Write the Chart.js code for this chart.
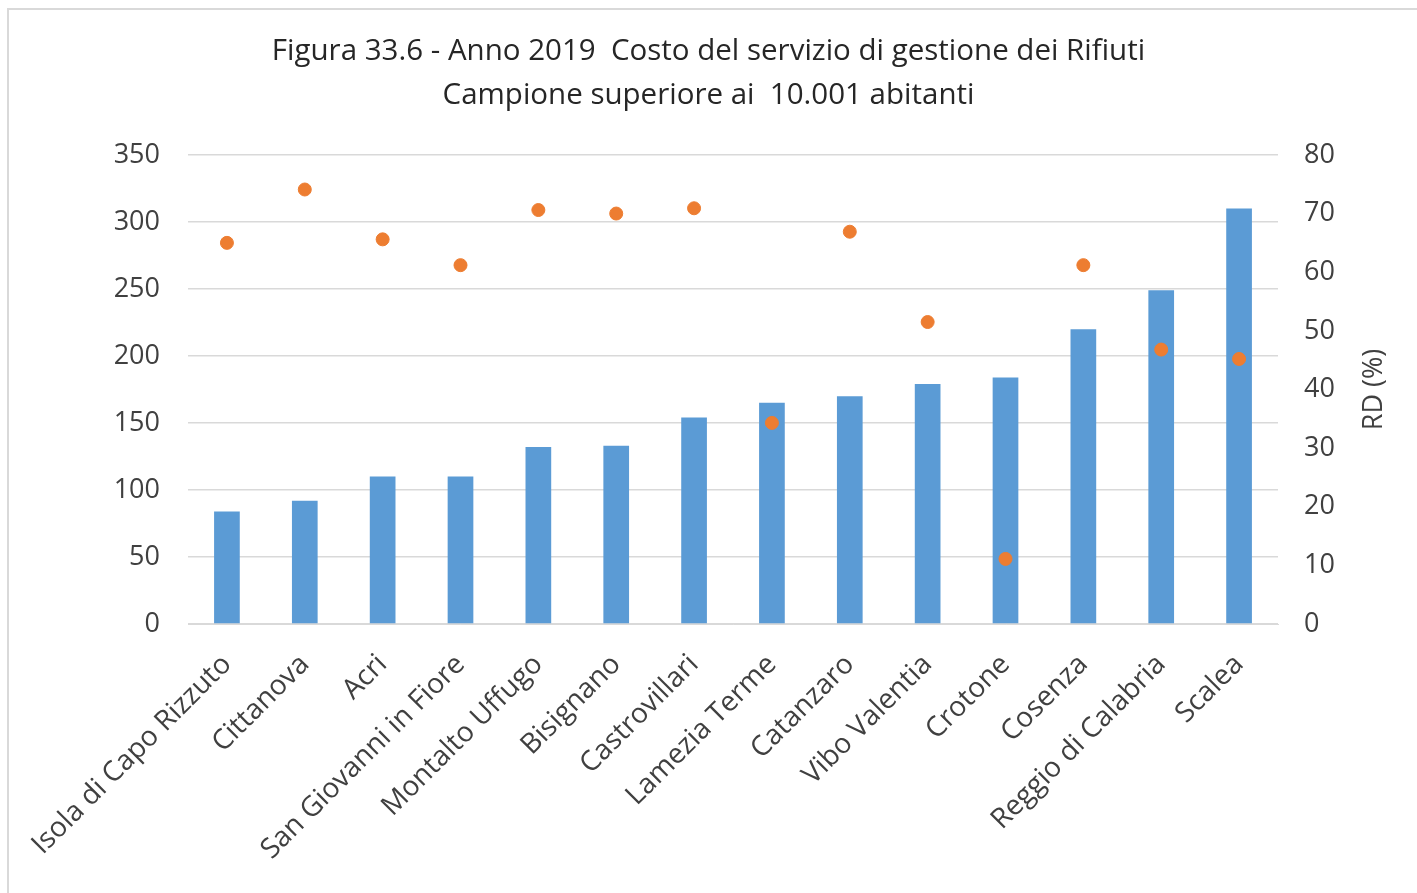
<!DOCTYPE html>
<html>
<head>
<meta charset="utf-8">
<script src="https://cdn.jsdelivr.net/npm/chart.js@4.4.1/dist/chart.umd.min.js"></script>
<style>
  html, body { margin: 0; padding: 0; background: #fff; }
  .wrap { position: relative; width: 1417px; height: 893px; }
  .frame { position: absolute; left: 7px; top: 8px; right: 0; bottom: 0;
           border-left: 2px solid #d9d9d9; border-top: 2px solid #d9d9d9; pointer-events: none; }
  canvas { position: absolute; left: 0; top: 0; }
</style>
</head>
<body>
<div class="wrap">
  <canvas id="costChart" width="1417" height="893"></canvas>
  <div class="frame"></div>
</div>
<script>
// --- data ---
const comuni = [
  "Isola di Capo Rizzuto", "Cittanova", "Acri", "San Giovanni in Fiore",
  "Montalto Uffugo", "Bisignano", "Castrovillari", "Lamezia Terme",
  "Catanzaro", "Vibo Valentia", "Crotone", "Cosenza",
  "Reggio di Calabria", "Scalea",
];
const costo = [84, 92, 110, 110, 132, 133, 154, 165, 170, 179, 184, 220, 249, 310];
const rd = [65.0, 74.1, 65.6, 61.2, 70.6, 70.0, 70.9, 34.3, 66.9, 51.5, 11.1, 61.2, 46.8, 45.2];
const titleLines = [
  "Figura 33.6 - Anno 2019  Costo del servizio di gestione dei Rifiuti",
  "Campione superiore ai  10.001 abitanti",
];
const rightAxisTitle = "RD (%)";

const textColor = "#404040";
const gridColor = "#d9d9d9";
const fontFamily = "'Open Sans', 'Noto Sans', sans-serif";

// right axis title reads bottom-to-top, like the original
const rightTitlePlugin = {
  id: "rightTitle",
  afterDraw(chart) {
    const { ctx, chartArea } = chart;
    ctx.save();
    ctx.translate(1374, (chartArea.top + chartArea.bottom) / 2);
    ctx.rotate(-Math.PI / 2);
    ctx.fillStyle = textColor;
    ctx.font = "27px " + fontFamily;
    ctx.textAlign = "center";
    ctx.textBaseline = "middle";
    ctx.fillText(rightAxisTitle, 0, 0);
    ctx.restore();
  },
};

const ctx = document.getElementById("costChart").getContext("2d");

new Chart(ctx, {
  data: {
    labels: comuni,
    datasets: [
      {
        type: "line",
        label: "RD (%)",
        data: rd,
        yAxisID: "y1",
        showLine: false,
        pointRadius: 6.5,
        pointHoverRadius: 6.5,
        pointBackgroundColor: "#ED7D31",
        pointBorderColor: "#ED7D31",
        order: 0,
      },
      {
        type: "bar",
        label: "Costo",
        data: costo,
        yAxisID: "y",
        backgroundColor: "#5B9BD5",
        categoryPercentage: 1,
        barPercentage: 0.33,
        order: 1,
      },
    ],
  },
  plugins: [rightTitlePlugin],
  options: {
    responsive: false,
    animation: false,
    layout: { padding: { left: 0, right: 0, top: 0, bottom: 0 } },
    plugins: {
      legend: { display: false },
      tooltip: { enabled: false },
      title: {
        display: true,
        text: titleLines,
        color: "#262626",
        font: { family: fontFamily, size: 29.5, weight: "normal", lineHeight: 1.49 },
        padding: { top: 30, bottom: 37 },
      },
    },
    scales: {
      x: {
        grid: { display: false, drawTicks: false },
        border: { display: true, color: gridColor },
        ticks: {
          color: textColor,
          font: { family: fontFamily, size: 28 },
          minRotation: 45,
          maxRotation: 45,
          padding: 24,
          autoSkip: false,
        },
        afterFit: (scale) => { scale.height = 269; },
      },
      y: {
        position: "left",
        min: 0,
        max: 350,
        ticks: {
          stepSize: 50,
          color: textColor,
          font: { family: fontFamily, size: 27 },
          padding: 28,
        },
        grid: { color: gridColor, lineWidth: 1.5, drawTicks: false },
        border: { display: false },
        afterFit: (scale) => { scale.width = 188; },
      },
      y1: {
        position: "right",
        min: 0,
        max: 80,
        ticks: {
          stepSize: 10,
          color: textColor,
          font: { family: fontFamily, size: 27 },
          padding: 26,
        },
        grid: { display: false, drawTicks: false },
        border: { display: false },
        afterFit: (scale) => { scale.width = 139; },
      },
    },
  },
});
</script>
</body>
</html>
